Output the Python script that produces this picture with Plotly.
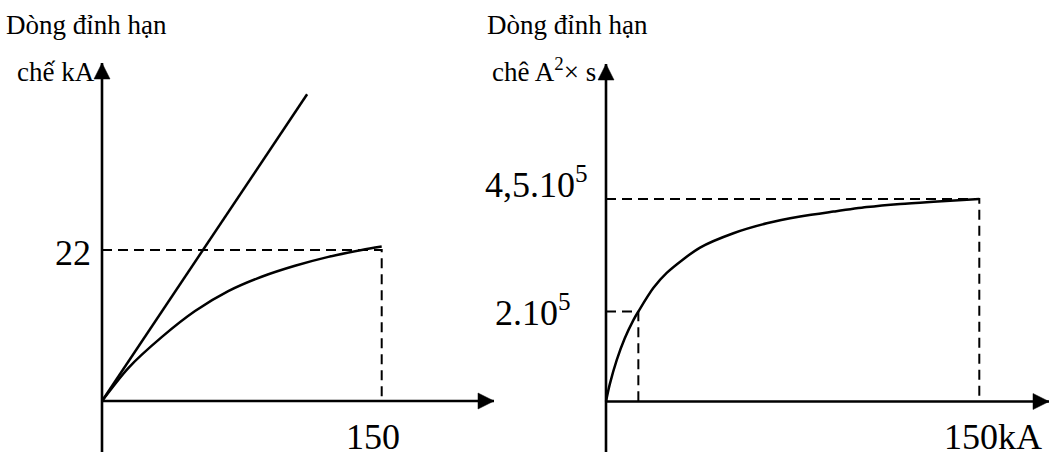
import plotly.graph_objects as go

# ---- data -------------------------------------------------------------
# Left: limited peak current (kA) versus prospective current (kA)
left_line_x = [0, 110]
left_line_y = [0, 44.7]
left_curve_x = [0, 14.1, 32.0, 49.9, 67.7, 85.6, 103.5, 121.4, 139.3, 150]
left_curve_y = [0, 4.8, 9.3, 13.1, 16.0, 18.1, 19.7, 21.0, 22.0, 22.5]
left_mark_x = 150      # kA
left_mark_y = 22       # kA

# Right: let-through energy (x 10^5 A^2 s) versus prospective current (kA)
right_curve_x = [0, 1.5, 4.3, 7.5, 11.0, 13.0, 19.0, 24.4, 37.8, 51.2, 64.6,
                 78.0, 91.4, 104.8, 118.2, 131.6, 150]
right_curve_y = [0, 0.38, 0.92, 1.40, 1.81, 2.0, 2.52, 2.86, 3.42, 3.74, 3.96,
                 4.11, 4.22, 4.32, 4.39, 4.44, 4.5]
right_mark_hi_x = 150   # kA
right_mark_hi_y = 4.5   # x 10^5
right_mark_lo_x = 13.0  # kA
right_mark_lo_y = 2.0   # x 10^5

# ---- page geometry ----------------------------------------------------
W, H = 1051, 459
FONT = "Liberation Serif"


def axis_range(origin_px, px_per_unit, lo_px, hi_px, flip=False):
    """Data range that puts value 0 at origin_px for a domain spanning lo_px..hi_px."""
    if flip:  # vertical axis: pixel grows downward
        return [(origin_px - hi_px) / px_per_unit, (origin_px - lo_px) / px_per_unit]
    return [(lo_px - origin_px) / px_per_unit, (hi_px - origin_px) / px_per_unit]


# left panel scale
L_ox, L_oy = 102, 401
L_sx = (381.7 - L_ox) / left_mark_x
L_sy = (L_oy - 250) / left_mark_y
# right panel scale
R_ox, R_oy = 606, 401.5
R_sx = (979.3 - R_ox) / right_mark_hi_x
R_sy = (R_oy - 199) / right_mark_hi_y

split = 0.5

fig = go.Figure()

line = dict(color="black", width=2.5)
dash = dict(color="black", width=2, dash="10px,6px")

# left panel traces
fig.add_trace(go.Scatter(x=left_line_x, y=left_line_y, mode="lines", line=line,
                         xaxis="x", yaxis="y"))
fig.add_trace(go.Scatter(x=left_curve_x, y=left_curve_y, mode="lines",
                         line=dict(line, shape="spline", smoothing=0.8),
                         xaxis="x", yaxis="y"))
fig.add_trace(go.Scatter(x=[0, left_mark_x, left_mark_x],
                         y=[left_mark_y, left_mark_y, 0],
                         mode="lines", line=dash, xaxis="x", yaxis="y"))

# right panel traces
fig.add_trace(go.Scatter(x=right_curve_x, y=right_curve_y, mode="lines",
                         line=dict(line, shape="spline", smoothing=0.8),
                         xaxis="x2", yaxis="y2"))
fig.add_trace(go.Scatter(x=[0, right_mark_hi_x, right_mark_hi_x],
                         y=[right_mark_hi_y, right_mark_hi_y, 0],
                         mode="lines", line=dash, xaxis="x2", yaxis="y2"))
fig.add_trace(go.Scatter(x=[0, right_mark_lo_x, right_mark_lo_x],
                         y=[right_mark_lo_y, right_mark_lo_y, 0],
                         mode="lines", line=dash, xaxis="x2", yaxis="y2"))

hidden = dict(showgrid=False, zeroline=False, showticklabels=False,
              showline=False, ticks="", fixedrange=True)

fig.update_layout(
    width=W, height=H,
    margin=dict(l=0, r=0, t=0, b=0),
    paper_bgcolor="white", plot_bgcolor="white",
    showlegend=False,
    xaxis=dict(hidden, domain=[0, split],
               range=axis_range(L_ox, L_sx, 0, W * split)),
    yaxis=dict(hidden, domain=[0, 1],
               range=axis_range(L_oy, L_sy, 0, H, flip=True)),
    xaxis2=dict(hidden, domain=[split, 1],
                range=axis_range(R_ox, R_sx, W * split, W)),
    yaxis2=dict(hidden, domain=[0, 1],
                range=axis_range(R_oy, R_sy, 0, H, flip=True)),
)

# ---- axes with arrowheads (shapes in each panel's data units) ---------
AX_W = 2.6
UP = "M0,0 L-8,-16 L8,-16 Z"
RIGHT = "M0,0 L-16,8 L-16,-8 Z"


def axis_shapes(xref, yref, y_top, y_bottom, x_right):
    return [
        dict(type="line", xref=xref, yref=yref, x0=0, x1=0,
             y0=y_bottom, y1=y_top, line=dict(color="black", width=AX_W)),
        dict(type="line", xref=xref, yref=yref, x0=0, x1=x_right,
             y0=0, y1=0, line=dict(color="black", width=AX_W)),
        dict(type="path", xref=xref, yref=yref, xsizemode="pixel",
             ysizemode="pixel", xanchor=0, yanchor=y_top, path=UP,
             fillcolor="black", line=dict(color="black", width=0.5)),
        dict(type="path", xref=xref, yref=yref, xsizemode="pixel",
             ysizemode="pixel", xanchor=x_right, yanchor=0, path=RIGHT,
             fillcolor="black", line=dict(color="black", width=0.5)),
    ]


shapes = axis_shapes("x", "y", (L_oy - 63) / L_sy, (L_oy - 452) / L_sy,
                     (494 - L_ox) / L_sx)
shapes += axis_shapes("x2", "y2", (R_oy - 64) / R_sy, (R_oy - 452) / R_sy,
                      (1049 - R_ox) / R_sx)
fig.update_layout(shapes=shapes)


def text(s, x_px, y_px, size, xanchor="left"):
    return dict(text=s, x=x_px / W, y=1 - y_px / H, xref="paper", yref="paper",
                xanchor=xanchor, yanchor="middle", showarrow=False,
                font=dict(family=FONT, size=size, color="black"))


annotations = [
    text("Dòng đỉnh hạn", 4, 25, 27),
    text("chế kA", 15, 72, 27),
    text("Dòng đỉnh hạn", 485, 25, 27),
    text("chê A<sup>2</sup>× s", 598, 70, 27, xanchor="right"),
    text("22", 93, 253, 36, xanchor="right"),
    text("150", 373, 437, 36, xanchor="center"),
    text("4,5.10<sup>5</sup>", 590, 182, 36, xanchor="right"),
    text("2.10<sup>5</sup>", 573, 310, 36, xanchor="right"),
    text("150kA", 1044, 437, 36, xanchor="right"),
]

fig.update_layout(annotations=annotations)

fig.write_html("out.html")
